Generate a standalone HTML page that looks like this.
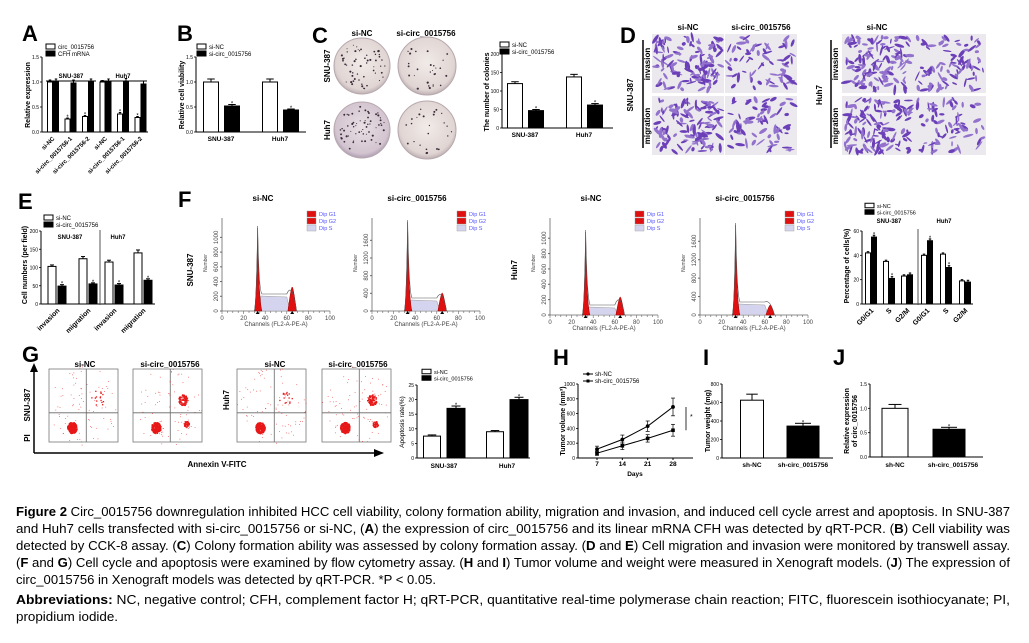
<!DOCTYPE html>
<html><head><meta charset="utf-8"><style>
html,body{margin:0;padding:0;background:#fff;width:1029px;height:643px;overflow:hidden}
svg{display:block;font-family:"Liberation Sans",sans-serif}
.b{font-weight:bold}
</style></head><body>
<svg id="fig" width="1029" height="643" viewBox="0 0 1029 643"></svg>
<script>
// ---------- DATA ----------
const catsA=['si-NC','si-circ_0015756-1','si-circ_0015756-2','si-NC','si-circ_0015756-1','si-circ_0015756-2'];
const circA=[1.0,0.26,0.31,1.0,0.36,0.29];
const circAerr=[0.04,0.02,0.02,0.03,0.03,0.02];
const cfhA=[1.0,0.98,1.0,1.0,1.02,0.96];
const cfhAerr=[0.06,0.06,0.06,0.06,0.05,0.06];
const ticksA=['0.0','0.5','1.0','1.5'];
const catsB=['SNU-387','Huh7'];
const ncB=[1.0,1.0], siB=[0.52,0.44], ncBerr=[0.06,0.06], siBerr=[0.03,0.02];
const ncC=[120,138], siC=[47,62], ncCerr=[5,7], siCerr=[3,4];
const ticksC=['0','50','100','150','200'];
const catsE=['invasion','migration','invasion','migration'];
const ncE=[103,124,115,140], siE=[49,55,52,65], ncEerr=[4,6,5,8], siEerr=[4,3,4,4];
const ticksE=['0','50','100','150','200'];
const catsF=['G0/G1','S','G2/M','G0/G1','S','G2/M'];
const ncF=[42,35,23,40,41,19], siF=[55,21,24,52,30,18];
const ticksF=['0','20','40','60'];
const ncG=[7.5,9], siG=[17,20];
const ticksG=['0','5','10','15','20','25'];
const daysH=[7,14,21,28];
const ncH=[120,250,430,690], shH=[65,165,265,375];
const ncHerr=[40,60,70,120], shHerr=[30,50,50,80];
const ticksH=['0','200','400','600','800','1000'];
const catsI=['sh-NC','sh-circ_0015756'];
const valsI=[625,345], errI=[65,30];
const ticksI=['0','200','400','600','800'];
const valsJ=[1.0,0.57], errJ=[0.08,0.04];
const ticksJ=['0.0','0.5','1.0','1.5'];

// ---------- helpers ----------
const svg=document.getElementById('fig');
const NS='http://www.w3.org/2000/svg';
function mk(tag,attrs,parent){const e=document.createElementNS(NS,tag);for(const k in attrs)e.setAttribute(k,attrs[k]);(parent||svg).appendChild(e);return e;}
function txt(s,x,y,size,opts,parent){opts=opts||{};const t=mk('text',Object.assign({x:x,y:y,'font-size':size,fill:opts.fill||'#000','text-anchor':opts.anchor||'start'},opts.bold?{'font-weight':'bold'}:{},opts.tr?{transform:opts.tr}:{}),parent);t.textContent=s;return t;}
function grp(name){const g=mk('g',{});return g;}
function yAxis(g,x,yb,yt,ticks,max,fs){mk('line',{x1:x,y1:yb,x2:x,y2:yt,stroke:'#000','stroke-width':1},g);ticks.forEach(t=>{const y=yb-(parseFloat(t)/max)*(yb-yt);mk('line',{x1:x-2,y1:y,x2:x,y2:y,stroke:'#000','stroke-width':0.8},g);const l=txt(t,x-3,y+2,fs||5,{anchor:'end'},g);});}
function bar(g,cx,w,v,max,yb,yt,fill,err,name){const y=yb-(v/max)*(yb-yt);const r=mk('rect',{x:cx-w/2,y:y,width:w,height:yb-y,fill:fill,stroke:'#000','stroke-width':1},g);if(err){const ye=yb-((v+err)/max)*(yb-yt);mk('line',{x1:cx,y1:y,x2:cx,y2:ye,stroke:'#000','stroke-width':1},g);mk('line',{x1:cx-w/4,y1:ye,x2:cx+w/4,y2:ye,stroke:'#000','stroke-width':1},g);return ye;}return y;}
function star(g,x,y){txt('*',x,y+1,6,{anchor:'middle'},g);}
function legend(g,x,y,labels,fs,kind){labels.forEach((l,i)=>{const yy=y+i*(fs+1);const e=mk('g',{},g);if(kind==='line'){mk('line',{x1:x,y1:yy,x2:x+10,y2:yy,stroke:'#000'},e);if(i==0)mk('circle',{cx:x+5,cy:yy,r:1.6},e);else mk('rect',{x:x+3.5,y:yy-1.5,width:3,height:3},e);}else{mk('rect',{x:x,y:yy-fs/2,width:9,height:fs-1,fill:i?'#000':'#fff',stroke:'#000','stroke-width':1},e);}txt(l,x+12,yy+fs/3,fs,{},e);});}
function panelLetter(s,x,y){const t=txt(s,x,y,22,{bold:true});}
let seed=7;function rnd(){seed=(seed*16807)%2147483647;return seed/2147483647;}

// ---------- A ----------
panelLetter('A',22,41);
{const g=grp('panel-a-chart');const yb=132,yt=57,max=1.5;
legend(g,46,47,['circ_0015756','CFH mRNA'],6);
yAxis(g,42,yb,yt,ticksA,max,5);
mk('line',{x1:42,y1:yb,x2:148,y2:yb,stroke:'#000'},g);
txt('Relative expression',30,95,7,{bold:true,anchor:'middle',tr:'rotate(-90 30 95)'},g);
mk('line',{x1:46,y1:81,x2:96,y2:81,stroke:'#000'},g);mk('line',{x1:100,y1:81,x2:147,y2:81,stroke:'#000'},g);
txt('SNU-387',71,78,6,{bold:true,anchor:'middle'},g);txt('Huh7',123,78,6,{bold:true,anchor:'middle'},g);
catsA.forEach((c,i)=>{const cx=53+i*17.5;const ye=bar(g,cx-3,5,circA[i],max,yb,yt,'#fff',circAerr[i],'bar-circ-'+i);if(circA[i]<0.5)star(g,cx-3,ye);bar(g,cx+3,5,cfhA[i],max,yb,yt,'#000',cfhAerr[i],'bar-cfh-'+i);const l=txt(c,cx+2,yb+7,6,{bold:true,anchor:'end',tr:'rotate(-45 '+(cx+2)+' '+(yb+7)+')'},g);});}

// ---------- B ----------
panelLetter('B',177,41);
{const g=grp('panel-b-chart');const yb=132,yt=57,max=1.5;
legend(g,197,47,['si-NC','si-circ_0015756'],6);
yAxis(g,196,yb,yt,ticksA,max,5);mk('line',{x1:196,y1:yb,x2:306,y2:yb,stroke:'#000'},g);
txt('Relative cell viability',184,95,7,{bold:true,anchor:'middle',tr:'rotate(-90 184 95)'},g);
catsB.forEach((c,i)=>{const cx=221+i*59;bar(g,cx-10,15,ncB[i],max,yb,yt,'#fff',ncBerr[i],'bar-si-nc-'+c);const ye=bar(g,cx+11,15,siB[i],max,yb,yt,'#000',siBerr[i],'bar-si-circ-'+c);star(g,cx+11,ye);txt(c,cx,141,6.5,{bold:true,anchor:'middle'},g);});}

// ---------- C plates ----------
panelLetter('C',312,43);
{const g=grp('panel-c-plates');
txt('si-NC',362,36,8,{bold:true,anchor:'middle'},g);txt('si-circ_0015756',426,36,8,{bold:true,anchor:'middle'},g);
txt('SNU-387',330,66,8,{bold:true,anchor:'middle',tr:'rotate(-90 330 66)'},g);txt('Huh7',330,130,8,{bold:true,anchor:'middle',tr:'rotate(-90 330 130)'},g);
const d=mk('defs',{},g);
const gr=mk('radialGradient',{id:'pl',cx:'50%',cy:'45%',r:'55%'},d);mk('stop',{offset:'0%','stop-color':'#f1ebe8'},gr);mk('stop',{offset:'85%','stop-color':'#e0d5d3'},gr);mk('stop',{offset:'100%','stop-color':'#bdb0b3'},gr);
const gr2=mk('radialGradient',{id:'pl2',cx:'50%',cy:'45%',r:'55%'},d);mk('stop',{offset:'0%','stop-color':'#e8dfe3'},gr2);mk('stop',{offset:'85%','stop-color':'#d3c4d0'},gr2);mk('stop',{offset:'100%','stop-color':'#ae9fb3'},gr2);
[[362,66,28,55,'pl'],[427,66,29,28,'pl'],[362,130,28,60,'pl2'],[427,130,29,25,'pl']].forEach((p,k)=>{const c=mk('circle',{cx:p[0],cy:p[1],r:p[2],fill:'url(#'+p[4]+')',stroke:'#b7a8ad','stroke-width':1},g);for(let i=0;i<p[3];i++){const a=rnd()*6.28,r=Math.sqrt(rnd())*p[2]*0.85;mk('circle',{cx:p[0]+r*Math.cos(a),cy:p[1]+r*Math.sin(a),r:0.5+rnd()*0.6,fill:'#3a2a3a'},g);}});}

// ---------- C bar ----------
{const g=grp('panel-c-chart');const yb=128,yt=54,max=200;
legend(g,500,45,['si-NC','si-circ_0015756'],6);
yAxis(g,502,yb,yt,ticksC,max,5);mk('line',{x1:502,y1:yb,x2:613,y2:yb,stroke:'#000'},g);
txt('The number of colonies',489,92,7,{bold:true,anchor:'middle',tr:'rotate(-90 489 92)'},g);
catsB.forEach((c,i)=>{const cx=525+i*59;bar(g,cx-10,15,ncC[i],max,yb,yt,'#fff',ncCerr[i],'bar-colonies-nc-'+c);const ye=bar(g,cx+11,15,siC[i],max,yb,yt,'#000',siCerr[i],'bar-colonies-si-'+c);star(g,cx+11,ye);txt(c,cx,137,6.5,{bold:true,anchor:'middle'},g);});}

// ---------- D ----------
panelLetter('D',620,43);
{const g=grp('panel-d-transwell');
txt('si-NC',688,30,8,{bold:true,anchor:'middle'},g);txt('si-circ_0015756',761,30,8,{bold:true,anchor:'middle'},g);txt('si-NC',877,30,8,{bold:true,anchor:'middle'},g);
mk('line',{x1:643,y1:40,x2:643,y2:148,stroke:'#000','stroke-width':1.5},g);mk('line',{x1:831,y1:40,x2:831,y2:148,stroke:'#000','stroke-width':1.5},g);
txt('SNU-387',633,95,8,{bold:true,anchor:'middle',tr:'rotate(-90 633 95)'},g);txt('Huh7',822,95,8,{bold:true,anchor:'middle',tr:'rotate(-90 822 95)'},g);
[[650,64],[650,126],[838,64],[838,126]].forEach((p,i)=>txt(i%2?'migration':'invasion',p[0],p[1],8,{bold:true,anchor:'middle',tr:'rotate(-90 '+p[0]+' '+p[1]+')'},g));
const imgs=[[652,34,120],[725,34,65],[652,96,120],[725,96,65],[842,34,120],[914,34,80],[842,96,120],[914,96,65]];
imgs.forEach(p=>{const r=mk('rect',{x:p[0],y:p[1],width:72,height:59,fill:'#ebe9ee'},g);for(let i=0;i<p[2];i++){const x=p[0]+3+rnd()*66,y=p[1]+3+rnd()*53,a=rnd()*180;mk('ellipse',{cx:x,cy:y,rx:2+rnd()*3.5,ry:0.7+rnd()*1.1,fill:rnd()>0.5?'#6b3fb8':'#9272cc',transform:'rotate('+a+' '+x+' '+y+')'},g);}});}

// ---------- E ----------
panelLetter('E',18,209);
{const g=grp('panel-e-chart');const yb=304,yt=231,max=200;
legend(g,44,218,['si-NC','si-circ_0015756'],6);
yAxis(g,41,yb,yt,ticksE,max,5);mk('line',{x1:41,y1:yb,x2:155,y2:yb,stroke:'#000'},g);
mk('line',{x1:100,y1:230,x2:100,y2:305,stroke:'#555'},g);
txt('SNU-387',70,239,6,{bold:true,anchor:'middle'},g);txt('Huh7',118,239,6,{bold:true,anchor:'middle'},g);
txt('Cell numbers (per field)',27,265,7,{bold:true,anchor:'middle',tr:'rotate(-90 27 265)'},g);
const cx=[57,88,114,143];
catsE.forEach((c,i)=>{bar(g,cx[i]-5,8,ncE[i],max,yb,yt,'#fff',ncEerr[i],'bar-nc-'+c);const ye=bar(g,cx[i]+5,8,siE[i],max,yb,yt,'#000',siEerr[i],'bar-si-'+c);star(g,cx[i]+5,ye);txt(c,cx[i]+3,yb+7,7,{bold:true,anchor:'end',tr:'rotate(-45 '+(cx[i]+3)+' '+(yb+7)+')'},g);});}

// ---------- F histograms ----------
panelLetter('F',178,207);
txt('SNU-387',193,270,8,{bold:true,anchor:'middle',tr:'rotate(-90 193 270)'});
txt('Huh7',517,270,8,{bold:true,anchor:'middle',tr:'rotate(-90 517 270)'});
function hist(name,ax,yb,title,g1y,sy,g2y,ticks){const g=grp(name);const w=108,sx=w/100;
txt(title,ax+(title.length>6?45:41),201,8,{bold:true,anchor:'middle'},g);
mk('line',{x1:ax,y1:yb,x2:ax,y2:218,stroke:'#666','stroke-width':0.8},g);mk('line',{x1:ax,y1:yb,x2:ax+w,y2:yb,stroke:'#666','stroke-width':0.8},g);
for(let i=0;i<=20;i++){mk('line',{x1:ax+i*w/20,y1:yb,x2:ax+i*w/20,y2:yb+(i%4?2:3),stroke:'#666','stroke-width':0.6},g);}
for(let i=0;i<=5;i++)txt(String(i*20),ax+i*20*sx,yb+9,6,{anchor:'middle',fill:'#444'},g);
txt('Channels (FL2-A-PE-A)',ax+w/2,yb+15,6,{anchor:'middle',fill:'#444'},g);
txt('Number',ax-15,263,5,{anchor:'middle',fill:'#444',tr:'rotate(-90 '+(ax-15)+' 263)'},g);
ticks.forEach((t,i)=>{const y=yb-i*(yb-218)/ticks.length*0.95;txt(t,ax-4,y,6,{anchor:'middle',fill:'#444',tr:'rotate(-90 '+(ax-4)+' '+y+')'},g);mk('line',{x1:ax-2,y1:y,x2:ax,y2:y,stroke:'#666'},g);});
const X=c=>ax+c*sx;
mk('path',{d:`M${X(35)} ${yb} L${X(36)} ${sy} L${X(60)} ${sy+1} L${X(63)} ${yb} Z`,fill:'#d5d4ee',stroke:'#999','stroke-width':0.5},g);
mk('path',{d:`M${X(30)} ${yb} Q${X(32)} ${yb-10} ${X(33)} ${g1y} Q${X(34)} ${yb-10} ${X(37)} ${yb} Z`,fill:'#e01010',stroke:'#900','stroke-width':0.5},g);
mk('path',{d:`M${X(61)} ${yb} Q${X(64)} ${g2y} ${X(65)} ${g2y} Q${X(66)} ${g2y} ${X(69)} ${yb} Z`,fill:'#e01010',stroke:'#900','stroke-width':0.5},g);
mk('path',{d:`M${X(30)} ${yb} Q${X(32)} ${yb-10} ${X(33)} ${g1y-2} Q${X(34)} ${yb-20} ${X(37)} ${sy-2} L${X(60)} ${sy-2} Q${X(65)} ${g2y-6} ${X(69)} ${yb}`,fill:'none',stroke:'#555','stroke-width':0.6},g);
mk('path',{d:`M${X(33)-2} ${yb+3} l2 -3 l2 3z M${X(65)-2} ${yb+3} l2 -3 l2 3z`,fill:'#000'},g);
const lx=ax+85;[['#e01010','Dip G1'],['#e01010','Dip G2'],['#d5d4ee','Dip S']].forEach((l,i)=>{const e=mk('g',{},g);mk('rect',{x:lx,y:211+i*7,width:9,height:6,fill:l[0],stroke:'#999','stroke-width':0.4},e);txt(l[1],lx+12,216+i*7,5.5,{fill:'#55f'},e);});}
hist('histogram-snu387-si-nc',222,311,'si-NC',228,296,287,['0','200','400','600','800','1000']);
hist('histogram-snu387-si-circ',372,311,'si-circ_0015756',222,300,293,['0','400','800','1200','1600']);
hist('histogram-huh7-si-nc',550,315,'si-NC',232,307,297,['0','200','400','600','800','1000']);
hist('histogram-huh7-si-circ',700,315,'si-circ_0015756',225,304,305,['0','400','800','1200','1600']);

// ---------- F bar ----------
{const g=grp('panel-f-chart');const yb=304,yt=231,max=60;
legend(g,865,206,['si-NC','si-circ_0015756'],5.5);
yAxis(g,862,yb,yt,ticksF,max,5);mk('line',{x1:862,y1:yb,x2:973,y2:yb,stroke:'#000'},g);
mk('line',{x1:918,y1:229,x2:918,y2:305,stroke:'#555'},g);
txt('SNU-387',889,223,6,{bold:true,anchor:'middle'},g);txt('Huh7',944,223,6,{bold:true,anchor:'middle'},g);
txt('Percentage of cells(%)',849,266,7,{bold:true,anchor:'middle',tr:'rotate(-90 849 266)'},g);
const cx=[871,889,907,927,946,965];
catsF.forEach((c,i)=>{bar(g,cx[i]-3,5,ncF[i],max,yb,yt,'#fff',1,'bar-nc-'+c);const ye=bar(g,cx[i]+3,5,siF[i],max,yb,yt,'#000',1.5,'bar-si-'+c);if(Math.abs(siF[i]-ncF[i])>4)star(g,cx[i]+3,ye);txt(c,cx[i]+3,yb+7,7,{bold:true,anchor:'end',tr:'rotate(-45 '+(cx[i]+3)+' '+(yb+7)+')'},g);});}

// ---------- G scatter ----------
panelLetter('G',22,362);
{const g=grp('panel-g-flow');
[['si-NC',85],['si-circ_0015756',170],['si-NC',275],['si-circ_0015756',358]].forEach(t=>txt(t[0],t[1],367,8,{bold:true,anchor:'middle'},g));
mk('line',{x1:34,y1:453,x2:34,y2:370,stroke:'#000','stroke-width':1.5},g);mk('path',{d:'M30 372 L34 363 L38 372Z'},g);
mk('line',{x1:34,y1:453,x2:375,y2:453,stroke:'#000','stroke-width':1.5},g);mk('path',{d:'M374 449 L384 453 L374 457Z'},g);
txt('SNU-387',30,405,8,{bold:true,anchor:'middle',tr:'rotate(-90 30 405)'},g);txt('PI',30,438,8,{bold:true,anchor:'middle',tr:'rotate(-90 30 438)'},g);
txt('Huh7',229,400,8,{bold:true,anchor:'middle',tr:'rotate(-90 229 400)'},g);
txt('Annexin V-FITC',217,467,8,{bold:true,anchor:'middle'},g);
[[49,false],[133,true],[237,false],[322,true]].forEach(p=>{const x=p[0],y=369,w=69,h=73;const r=mk('rect',{x:x,y:y,width:w,height:h,fill:'#fff',stroke:'#777','stroke-width':0.8},g);
mk('line',{x1:x+w*0.54,y1:y,x2:x+w*0.54,y2:y+h,stroke:'#666','stroke-width':0.8},g);mk('line',{x1:x,y1:y+h*0.6,x2:x+w,y2:y+h*0.6,stroke:'#666','stroke-width':0.8},g);
const cl=[[0.33,0.8,0.07,250],[0.5,0.5,0.5,80]];if(p[1]){cl.push([0.72,0.42,0.07,90],[0.77,0.75,0.04,40]);}else cl.push([0.7,0.4,0.1,15]);
cl.forEach(c=>{for(let i=0;i<c[3];i++){const a=rnd()*6.28,rr=Math.sqrt(rnd())*c[2];mk('rect',{x:x+w*(c[0]+rr*Math.cos(a)),y:y+h*(c[1]+rr*Math.sin(a)*1.1),width:c[2]<0.2?1.3:0.7,height:c[2]<0.2?1.3:0.7,fill:'#e81818'},g);}});});}

// ---------- G bar ----------
{const g=grp('panel-g-chart');const yb=458,yt=385,max=25;
legend(g,422,372,['si-NC','si-circ_0015756'],5.5);
yAxis(g,417,yb,yt,ticksG,max,5);mk('line',{x1:417,y1:yb,x2:530,y2:yb,stroke:'#000'},g);
txt('Apoptosis rate(%)',404,422,6.5,{anchor:'middle',tr:'rotate(-90 404 422)'},g);
catsB.forEach((c,i)=>{const cx=444+i*63;bar(g,cx-12,17,ncG[i],max,yb,yt,'#fff',0.4,'bar-apoptosis-nc-'+c);const ye=bar(g,cx+12,18,siG[i],max,yb,yt,'#000',0.8,'bar-apoptosis-si-'+c);star(g,cx+12,ye);txt(c,cx,468,6.5,{bold:true,anchor:'middle'},g);});}

// ---------- H ----------
panelLetter('H',553,365);
{const g=grp('panel-h-chart');const yb=458,yt=384,max=1000;const x0=578,xs=d=>597+(d-7)*(76/21);
legend(g,583,374,['sh-NC','sh-circ_0015756'],6,'line');
yAxis(g,x0,yb,yt,ticksH,max,5);mk('line',{x1:x0,y1:yb,x2:693,y2:yb,stroke:'#000'},g);
daysH.forEach(d=>{mk('line',{x1:xs(d),y1:yb,x2:xs(d),y2:yb+2,stroke:'#000'},g);txt(String(d),xs(d),466,6.5,{bold:true,anchor:'middle'},g);});
txt('Days',xs(17.5),476,6.5,{bold:true,anchor:'middle'},g);
txt('Tumor volume (mm³)',565,421,7,{bold:true,anchor:'middle',tr:'rotate(-90 565 421)'},g);
const Y=v=>yb-v/max*(yb-yt);
[[ncH,ncHerr,'line-sh-nc'],[shH,shHerr,'line-sh-circ']].forEach((s,k)=>{const p=mk('polyline',{points:daysH.map((d,i)=>xs(d)+','+Y(s[0][i])).join(' '),fill:'none',stroke:'#000','stroke-width':1},g);
daysH.forEach((d,i)=>{mk('line',{x1:xs(d),y1:Y(s[0][i]-s[1][i]),x2:xs(d),y2:Y(s[0][i]+s[1][i]),stroke:'#000','stroke-width':0.7},g);[s[0][i]-s[1][i],s[0][i]+s[1][i]].forEach(v=>mk('line',{x1:xs(d)-2,y1:Y(v),x2:xs(d)+2,y2:Y(v),stroke:'#000','stroke-width':0.7},g));const m=k?mk('rect',{x:xs(d)-1.8,y:Y(s[0][i])-1.8,width:3.6,height:3.6},g):mk('circle',{cx:xs(d),cy:Y(s[0][i]),r:1.9},g);});});
mk('line',{x1:686,y1:Y(690),x2:686,y2:Y(375),stroke:'#000','stroke-width':0.8},g);txt('*',690,Y(530),7,{},g);}

// ---------- I ----------
panelLetter('I',703,365);
{const g=grp('panel-i-chart');const yb=458,yt=384,max=800;
yAxis(g,722,yb,yt,ticksI,max,5);mk('line',{x1:722,y1:yb,x2:833,y2:yb,stroke:'#000'},g);
txt('Tumor weight (mg)',710,421,7,{bold:true,anchor:'middle',tr:'rotate(-90 710 421)'},g);
catsI.forEach((c,i)=>{const cx=[752,803][i];const ye=bar(g,cx,[23,32][i],valsI[i],max,yb,yt,i?'#000':'#fff',errI[i],'bar-tumor-weight-'+c);if(i)star(g,cx,ye);txt(c,cx,467,6.5,{bold:true,anchor:'middle'},g);});}

// ---------- J ----------
panelLetter('J',833,365);
{const g=grp('panel-j-chart');const yb=457,yt=384,max=1.5;
yAxis(g,870,yb,yt,ticksJ,max,5);mk('line',{x1:870,y1:yb,x2:983,y2:yb,stroke:'#000'},g);
txt('Relative expression',849,421,7,{bold:true,anchor:'middle',tr:'rotate(-90 849 421)'},g);txt('of circ_0015756',857,421,7,{bold:true,anchor:'middle',tr:'rotate(-90 857 421)'},g);
catsI.forEach((c,i)=>{const cx=[895,949][i];const ye=bar(g,cx,[26,32][i],valsJ[i],max,yb,yt,i?'#000':'#fff',errJ[i],'bar-relative-expression-'+c);if(i)star(g,cx,ye);txt(c,cx+(i?4:0),467,6.5,{bold:true,anchor:'middle'},g);});}
</script>
<svg width="1029" height="643" style="position:absolute;left:0;top:0" font-family="'Liberation Sans Narrow','Liberation Sans',sans-serif" font-size="12.5">
<text x="16" y="516" textLength="994" lengthAdjust="spacingAndGlyphs"><tspan font-weight="bold">Figure 2</tspan> Circ_0015756 downregulation inhibited HCC cell viability, colony formation ability, migration and invasion, and induced cell cycle arrest and apoptosis. In SNU-387</text>
<text x="16" y="533" textLength="994" lengthAdjust="spacingAndGlyphs">and Huh7 cells transfected with si-circ_0015756 or si-NC, (<tspan font-weight="bold">A</tspan>) the expression of circ_0015756 and its linear mRNA CFH was detected by qRT-PCR. (<tspan font-weight="bold">B</tspan>) Cell viability was</text>
<text x="16" y="550" textLength="994" lengthAdjust="spacingAndGlyphs">detected by CCK-8 assay. (<tspan font-weight="bold">C</tspan>) Colony formation ability was assessed by colony formation assay. (<tspan font-weight="bold">D</tspan> and <tspan font-weight="bold">E</tspan>) Cell migration and invasion were monitored by transwell assay.</text>
<text x="16" y="567" textLength="994" lengthAdjust="spacingAndGlyphs">(<tspan font-weight="bold">F</tspan> and <tspan font-weight="bold">G</tspan>) Cell cycle and apoptosis were examined by flow cytometry assay. (<tspan font-weight="bold">H</tspan> and <tspan font-weight="bold">I</tspan>) Tumor volume and weight were measured in Xenograft models. (<tspan font-weight="bold">J</tspan>) The expression of</text>
<text x="16" y="584" textLength="420" lengthAdjust="spacingAndGlyphs">circ_0015756 in Xenograft models was detected by qRT-PCR. *P &lt; 0.05.</text>
<text x="16" y="604" textLength="994" lengthAdjust="spacingAndGlyphs"><tspan font-weight="bold">Abbreviations:</tspan> NC, negative control; CFH, complement factor H; qRT-PCR, quantitative real-time polymerase chain reaction; FITC, fluorescein isothiocyanate; PI,</text>
<text x="16" y="621" textLength="102" lengthAdjust="spacingAndGlyphs">propidium iodide.</text>
</svg>
</body></html>
